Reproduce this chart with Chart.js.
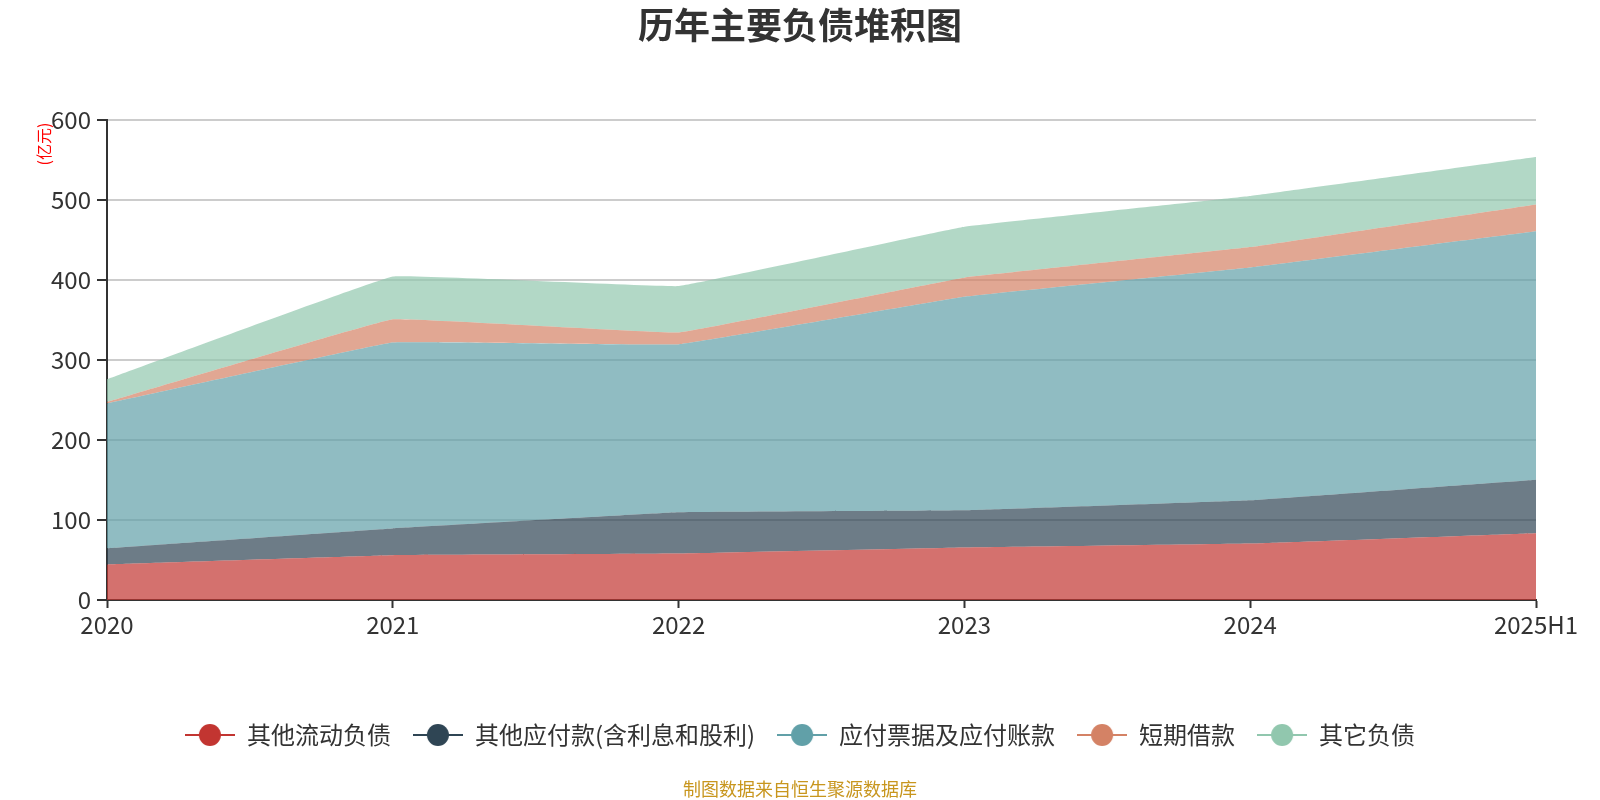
<!DOCTYPE html>
<html>
<head>
<meta charset="utf-8">
<title>历年主要负债堆积图</title>
<script src="https://cdn.jsdelivr.net/npm/chart.js@4.4.1/dist/chart.umd.min.js"></script>
<style>
  html, body { margin: 0; padding: 0; background: #fff; }
</style>
</head>
<body>
<canvas id="chart" width="1600" height="800"></canvas>
<script>
// values in 亿元
const years = ['2020', '2021', '2022', '2023', '2024', '2025H1'];
const otherCurrent = [44.5, 56, 58, 65.5, 70.5, 83.5];      // 其他流动负债
const otherPayables = [20.2, 33.5, 51.6, 46.6, 54.2, 67];    // 其他应付款(含利息和股利)
const billsPayable = [181, 232.5, 210, 267, 291, 310.6];     // 应付票据及应付账款
const shortLoans = [1.7, 29, 15, 24, 25.6, 33.6];            // 短期借款
const otherLiab = [28.4, 53.5, 58, 63.7, 64, 59.4];          // 其它负债
const yTicks = [0, 100, 200, 300, 400, 500, 600];

const seriesNames = ['其他流动负债', '其他应付款(含利息和股利)', '应付票据及应付账款', '短期借款', '其它负债'];
const seriesColors = ['#c23531', '#2f4554', '#61a0a8', '#d48265', '#91c7ae'];
const seriesData = [otherCurrent, otherPayables, billsPayable, shortLoans, otherLiab];

Chart.defaults.font.family = '"Noto Sans CJK SC", "Noto Sans", sans-serif';
Chart.defaults.color = '#333';

function hexToRgba(hex, a) {
    const n = parseInt(hex.slice(1), 16);
    return `rgba(${(n >> 16) & 255}, ${(n >> 8) & 255}, ${n & 255}, ${a})`;
}

// legend icon: short line with a dot in the middle
function makeIcon(color) {
    const c = document.createElement('canvas');
    c.width = 50;
    c.height = 26;
    const g = c.getContext('2d');
    g.strokeStyle = color;
    g.lineWidth = 2;
    g.beginPath();
    g.moveTo(0, 13);
    g.lineTo(50, 13);
    g.stroke();
    g.fillStyle = color;
    g.beginPath();
    g.arc(25, 13, 11, 0, Math.PI * 2);
    g.fill();
    return c;
}
const icons = seriesColors.map(makeIcon);

const datasets = seriesNames.map((name, i) => ({
    label: name,
    data: seriesData[i],
    backgroundColor: hexToRgba(seriesColors[i], 0.7),
    borderColor: seriesColors[i],
    borderWidth: 0,
    pointRadius: 0,
    pointHoverRadius: 0,
    tension: 0.05,
    fill: i === 0 ? 'origin' : '-1'
}));

const extras = {
    id: 'extras',
    afterDraw(chart) {
        const ctx = chart.ctx;
        ctx.save();
        // footer note
        ctx.font = '18px "Noto Sans CJK SC"';
        ctx.fillStyle = '#c8961e';
        ctx.textAlign = 'center';
        ctx.textBaseline = 'middle';
        ctx.fillText('制图数据来自恒生聚源数据库', 800, 789);
        // y axis unit
        ctx.translate(44, 144);
        ctx.rotate(-Math.PI / 2);
        ctx.font = '16px "Noto Sans CJK SC"';
        ctx.fillStyle = '#ff0000';
        ctx.fillText('(亿元)', 0, 0);
        ctx.restore();
    }
};

new Chart(document.getElementById('chart'), {
    type: 'line',
    data: { labels: years, datasets: datasets },
    options: {
        responsive: false,
        animation: false,
        devicePixelRatio: 1,
        layout: { padding: { left: 0, right: 0, top: 0, bottom: 43 } },
        plugins: {
            title: {
                display: true,
                text: '历年主要负债堆积图',
                color: '#333',
                font: { size: 36, weight: 'bold' },
                padding: { top: 4, bottom: 73 }
            },
            legend: {
                position: 'bottom',
                labels: {
                    usePointStyle: true,
                    pointStyleWidth: 50,
                    padding: 22,
                    color: '#333',
                    font: { size: 24 },
                    generateLabels(chart) {
                        const items = Chart.defaults.plugins.legend.labels.generateLabels(chart);
                        items.forEach((it, i) => { it.pointStyle = icons[i]; });
                        return items;
                    }
                }
            },
            tooltip: { enabled: false }
        },
        scales: {
            x: {
                z: 1,
                offset: false,
                grid: { drawOnChartArea: false, drawTicks: true, tickLength: 8, tickColor: '#333', tickWidth: 2 },
                border: { color: '#333', width: 2 },
                ticks: { font: { size: 24 }, color: '#333', padding: 2, maxRotation: 0, autoSkip: false },
                afterFit(s) { s.height = 101; s.paddingRight = 64; }
            },
            y: {
                stacked: true,
                min: 0,
                max: 600,
                afterBuildTicks(s) { s.ticks = yTicks.map(v => ({ value: v })); },
                grid: { color: '#ccc', lineWidth: 2, tickLength: 10, tickColor: '#333', tickWidth: 2 },
                border: { color: '#333', width: 2 },
                ticks: { font: { size: 24 }, color: '#333', padding: 6 },
                afterFit(s) { s.width = 107; }
            }
        }
    },
    plugins: [extras]
});
</script>
</body>
</html>
